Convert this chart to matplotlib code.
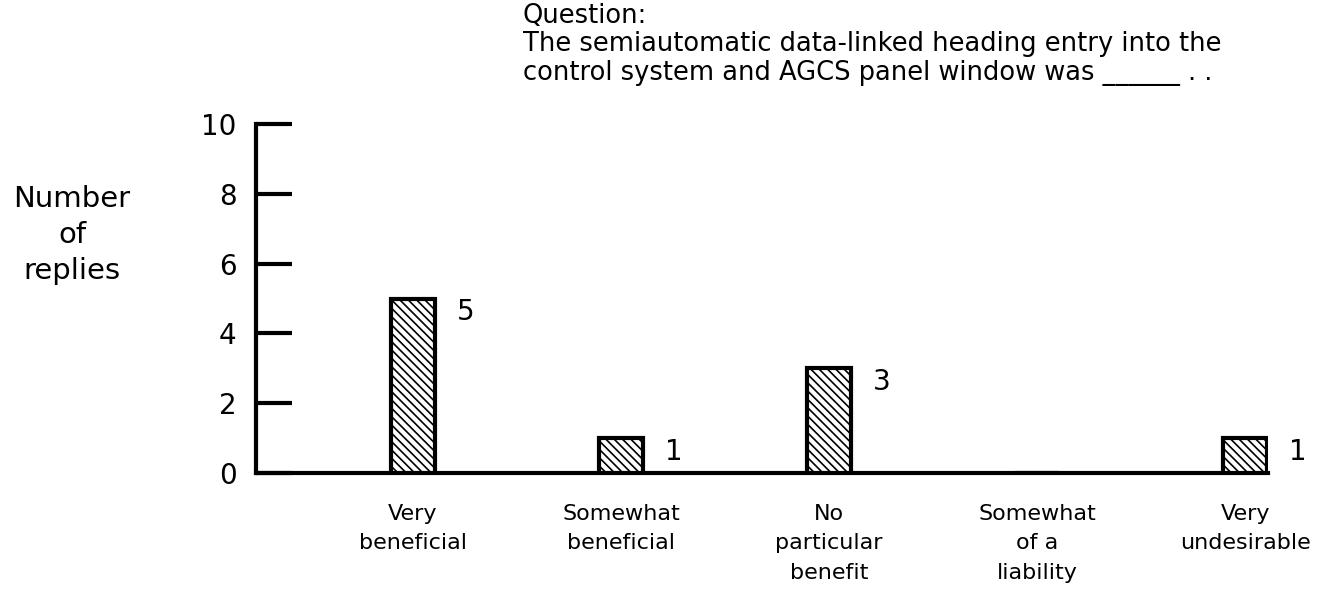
import numpy as np
import matplotlib.pyplot as plt

# ---------- data ----------
categories = [
    "Very\nbeneficial",
    "Somewhat\nbeneficial",
    "No\nparticular\nbenefit",
    "Somewhat\nof a\nliability",
    "Very\nundesirable",
]
replies = [5, 1, 3, 0, 1]
bar_labels = ["5", "1", "3", "", "1"]
yticks = [0, 2, 4, 6, 8, 10]

question = ("Question:\n"
            "The semiautomatic data-linked heading entry into the\n"
            "control system and AGCS panel window was ______ . .")

plt.rcParams["font.family"] = ["DejaVu Sans"]
plt.rcParams["hatch.linewidth"] = 1.2

fig = plt.figure(figsize=(13.36, 5.96), dpi=100)
ax = fig.add_axes([256 / 1336, 123 / 596, 1012 / 1336, 349 / 596])

x = np.arange(len(categories))
bars = ax.bar(x, replies, width=0.21, facecolor="white", edgecolor="black",
              linewidth=3, hatch="\\\\\\\\", zorder=3)
for rect, lab in zip(bars, bar_labels):
    if not lab:
        continue
    ax.annotate(lab, (rect.get_x() + rect.get_width(), rect.get_height()),
                xytext=(16, 0), textcoords="offset points",
                ha="left", va="top", fontsize=20)

ax.set_xlim(-0.755, 4.11)
ax.set_ylim(0, 10)
ax.set_yticks(yticks)
ax.set_xticks(x)
ax.set_xticklabels(categories, fontsize=16, linespacing=1.6, va="top")

for s in ["top", "right"]:
    ax.spines[s].set_visible(False)
for s in ["left", "bottom"]:
    ax.spines[s].set_linewidth(3)

ax.tick_params(axis="y", direction="in", length=26, width=3, labelsize=20, pad=14)
ax.tick_params(axis="x", length=0, pad=22)

fig.text(72 / 1336, 1 - 235 / 596, "Number\nof\nreplies", ha="center", va="center",
         fontsize=21, linespacing=1.35)

fig.text(523 / 1336, 1 - 3 / 596, question, ha="left", va="top",
         fontsize=18.5, linespacing=1.12)

fig.savefig("out.png", dpi=100)
